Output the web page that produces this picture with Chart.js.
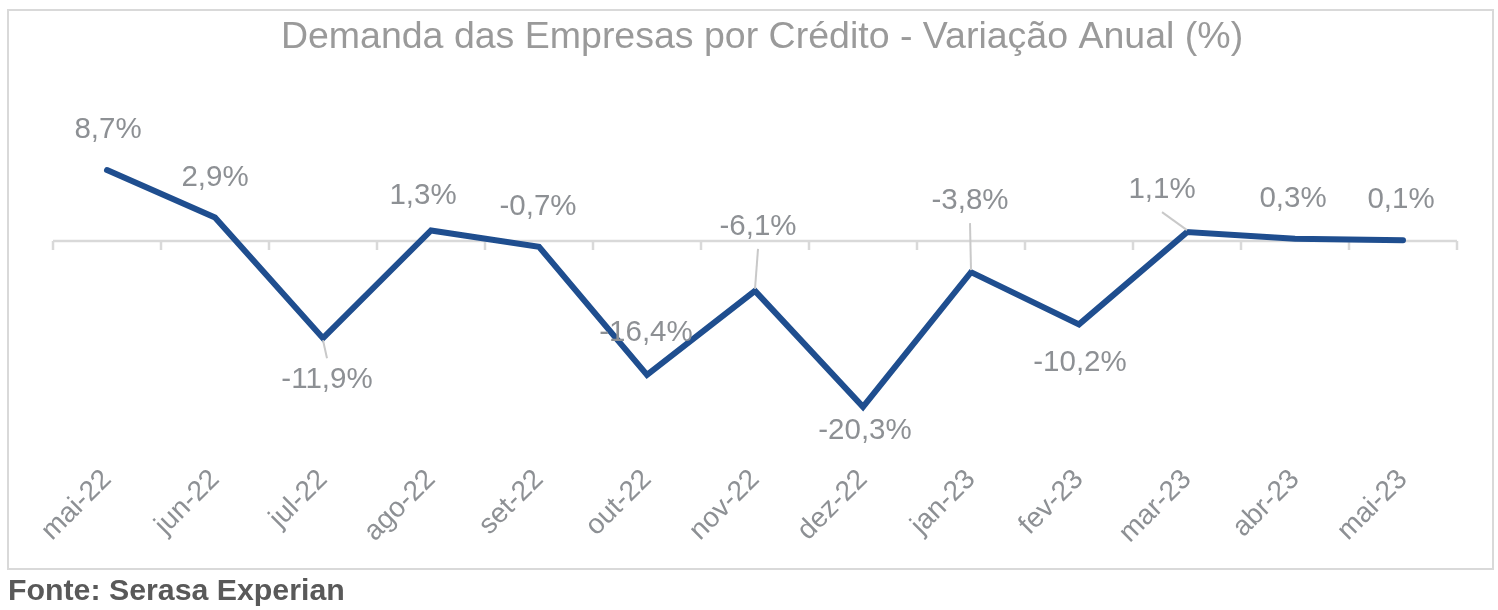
<!DOCTYPE html>
<html>
<head>
<meta charset="utf-8">
<script src="https://cdn.jsdelivr.net/npm/chart.js@4"></script>
<style>
  html, body { margin: 0; padding: 0; background: #ffffff; }
  #frame { position: absolute; left: 7px; top: 9px; width: 1487px; height: 561px; box-sizing: border-box; border: 2px solid #d9d9d9; }
  #wrap { position: absolute; left: 0; top: 0; width: 1498px; height: 610px; }
  #footer { position: absolute; left: 8px; top: 575px; font-family: "Liberation Sans", Arial, sans-serif; font-weight: bold; font-size: 30.3px; line-height: 30px; color: #595959; white-space: nowrap; }
</style>
</head>
<body>
<div id="frame"></div>
<div id="wrap"><canvas id="c"></canvas></div>
<div id="footer">Fonte: Serasa Experian</div>
<script>
const titleText = 'Demanda das Empresas por Crédito - Variação Anual (%)';
const categories = ['mai-22','jun-22','jul-22','ago-22','set-22','out-22','nov-22','dez-22','jan-23','fev-23','mar-23','abr-23','mai-23'];
const values = [8.7, 2.9, -11.9, 1.3, -0.7, -16.4, -6.1, -20.3, -3.8, -10.2, 1.1, 0.3, 0.1];
// label placement offsets (px) relative to each point, and which labels get a leader line
const labelOffsets = [[1,-40],[0,-40],[4,42],[-8,-35],[-1,-40],[-1,-42],[3,-64],[2,24],[-1,-71],[1,38],[-25,-42],[-2,-40],[-2,-40]];
const leaderLabels = [2, 6, 8, 10];

const FONT = '"Liberation Sans", Arial, sans-serif';
const LABEL_COLOR = '#8d9094';

const titlePlugin = {
  id: 'customTitle',
  afterDraw(chart) {
    const {ctx} = chart;
    ctx.save();
    ctx.font = '37.5px ' + FONT;
    ctx.fillStyle = '#9a9a9a';
    ctx.textAlign = 'center';
    ctx.textBaseline = 'middle';
    ctx.fillText(titleText, 762, 38);
    ctx.restore();
  }
};

const zeroAxisPlugin = {
  id: 'zeroAxis',
  beforeDatasetsDraw(chart) {
    const {ctx, chartArea, scales} = chart;
    const x = scales.x, y = scales.y;
    const y0 = y.getPixelForValue(0);
    ctx.save();
    ctx.strokeStyle = '#d9d9d9';
    ctx.lineWidth = 2.5;
    ctx.beginPath();
    ctx.moveTo(chartArea.left, y0);
    ctx.lineTo(chartArea.right, y0);
    const n = categories.length;
    for (let i = 0; i <= n; i++) {
      let bx;
      if (i === 0) bx = chartArea.left;
      else if (i === n) bx = chartArea.right;
      else bx = (x.getPixelForValue(i - 1) + x.getPixelForValue(i)) / 2;
      ctx.moveTo(bx, y0);
      ctx.lineTo(bx, y0 + 9);
    }
    ctx.stroke();
    ctx.restore();
  }
};

const dataLabelPlugin = {
  id: 'dataLabels',
  afterDatasetsDraw(chart) {
    const {ctx} = chart;
    const meta = chart.getDatasetMeta(0);
    ctx.save();
    meta.data.forEach((pt, i) => {
      const off = labelOffsets[i];
      const lx = pt.x + off[0], ly = pt.y + off[1];
      if (leaderLabels.includes(i)) {
        const s = Math.sign(pt.y - ly);
        ctx.strokeStyle = '#c9c9c9';
        ctx.lineWidth = 2;
        ctx.beginPath();
        ctx.moveTo(lx, ly + s * 22);
        ctx.lineTo(pt.x, pt.y - s * 2);
        ctx.stroke();
      }
      const txt = values[i].toFixed(1).replace('.', ',') + '%';
      ctx.font = '29.5px ' + FONT;
      ctx.fillStyle = LABEL_COLOR;
      ctx.textAlign = 'center';
      ctx.textBaseline = 'middle';
      ctx.fillText(txt, lx, ly);
    });
    ctx.restore();
  }
};

new Chart(document.getElementById('c'), {
  type: 'line',
  data: {
    labels: categories,
    datasets: [{
      data: values,
      borderColor: '#1f4e8f',
      borderWidth: 6,
      pointRadius: 0,
      pointHoverRadius: 0,
      tension: 0,
      borderCapStyle: 'round',
      borderJoinStyle: 'miter',
      fill: false
    }]
  },
  options: {
    responsive: true,
    maintainAspectRatio: false,
    animation: false,
    layout: { padding: { left: 53, right: 41, top: 135, bottom: 0 } },
    plugins: {
      legend: { display: false },
      tooltip: { enabled: false },
      title: { display: false }
    },
    scales: {
      x: {
        offset: true,
        grid: { display: false, drawTicks: false },
        border: { display: false },
        ticks: {
          autoSkip: false,
          maxRotation: 45,
          minRotation: 45,
          padding: 36,
          color: LABEL_COLOR,
          font: { family: FONT, size: 28, lineHeight: 0.2 }
        },
        afterFit(scale) { scale.height = 173; }
      },
      y: {
        display: false,
        min: -24,
        max: 13
      }
    }
  },
  plugins: [zeroAxisPlugin, dataLabelPlugin, titlePlugin]
});
</script>
</body>
</html>
